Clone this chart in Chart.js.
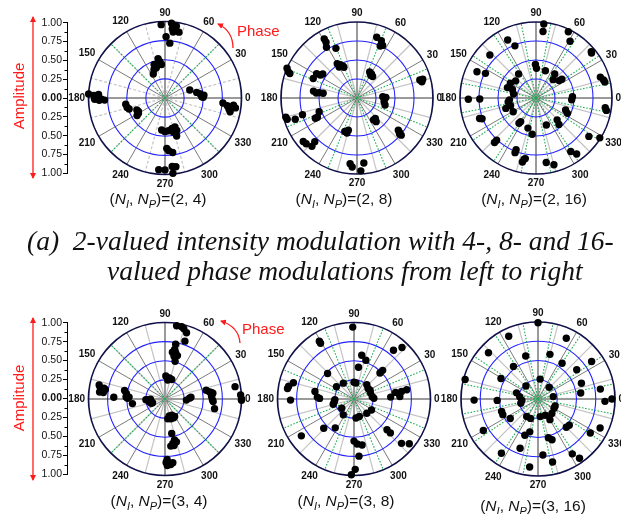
<!DOCTYPE html>
<html><head><meta charset="utf-8">
<script src="https://cdn.jsdelivr.net/npm/chart.js@4.4.1/dist/chart.umd.min.js"></script>
<style>
html,body{margin:0;padding:0;background:#fff}
body{width:621px;height:514px;position:relative;overflow:hidden;font-family:"Liberation Sans",Arial,sans-serif}
canvas{position:absolute}
.cap{position:absolute;font-size:15.5px;white-space:nowrap;transform:translate(-50%,-50%);color:#111}
.cap sub{font-size:11px;vertical-align:-4px;line-height:0}
.red{position:absolute;color:#ff1a1a;font-size:15px;white-space:nowrap}
.amp{transform:translate(-50%,-50%) rotate(-90deg)}
.para{position:absolute;font-family:"Liberation Serif","Times New Roman",serif;font-style:italic;font-size:27.5px;white-space:pre;color:#111;line-height:1}
svg{position:absolute;left:0;top:0}
</style></head>
<body>
<script>
// ---------- data: amplitude and phase (degrees) of each received symbol ----------
const amp1 = [0.96,0.98,0.95,0.91,0.87,0.88,0.80,0.72, 0.52,0.48,0.46,0.43,0.44,0.40,0.41,0.35, 1.00,0.93,0.89,0.87,0.86,0.83,0.79,0.92, 0.52,0.51,0.49,0.40,0.39,0.43,0.40, 0.42,0.44,0.43,0.41,0.40,0.45,0.46,0.52, 0.66,0.69,0.72,0.94,0.94,0.90,0.91,0.99, 0.34,0.42,0.46,0.48,0.50,0.51, 0.76,0.82,0.85,0.89,0.90,0.87,0.93];
const phase1 = [93,85,81,84,83,78,89,85, 100,98,108,106,96,111,106,116, 177,178,180,177,182,181,182,181, 189,194,197,203,207,212,210, 264,270,276,283,289,290,284,287, 272,274,278,265,270,276,279,276, 18,10,7,2,1,4, 355,353,350,352,354,348,352];

const amp2 = [0.89,0.84,0.78,0.71, 0.84,0.82,0.77,0.75, 0.52,0.49,0.46,0.44,0.47, 0.38,0.37,0.35,0.35, 1.00,0.97,0.94, 0.62,0.57,0.55,0.63, 0.58,0.54,0.50,0.45, 0.34,0.38,0.36,0.38, 0.97,0.96,0.86,0.75, 0.61,0.58,0.53, 0.36,0.40,0.36, 0.47,0.48,0.44, 0.91,0.90,0.80,0.87, 0.69,0.72,0.76,0.73, 0.87,0.91,0.96,0.86, 0.86,0.88,0.90];
const phase2 = [119,119,121,113, 72,67,64,66, 120,117,114,113,120, 64,59,54,59, 157,159,160, 149,148,145,156, 171,173,172,172, 3,1,352,346, 195,197,199,197, 206,206,200, 307,309,312, 250,254,255, 219,222,226,227, 322,321,320,320, 264,266,273,276, 16,14,16];

const amp3 = [0.98,0.88,0.97,0.87,0.85,0.74,0.95,0.94,0.83,0.44,0.39,0.38,0.85,0.74,0.39,0.40,0.33,0.38,0.42,0.89,0.92,0.93,0.35,0.39,0.40,0.33,0.30,0.89,0.74,0.35,0.37,0.42,0.35,0.35,0.48,0.47,0.92,0.94,0.42,0.46,0.79,0.76,0.40,0.37,0.41,0.48,0.38,0.40,0.46,0.86,0.99,0.76,0.80,0.73,0.77,0.84,0.91,0.82,0.81,0.86,0.86,0.91];
const phase3 = [84,84,64,59,116,112,40,39,137,91,89,71,156,154,126,52,47,37,36,18,15,13,140,150,160,160,170,181,181,184,188,199,197,211,2,357,352,350,338,334,200,201,236,237,255,264,291,314,311,324,328,227,227,249,249,303,306,259,260,258,279,285];

const amp4 = [0.97,0.97,0.95,0.91,0.80, 0.73,0.66,0.62,0.62,0.57,0.59,0.51, 0.30,0.28,0.27,0.25, 0.88,0.86,0.81,0.86,0.81,0.79, 0.67, 0.54,0.51,0.51,0.49,0.47,0.43, 0.25,0.23,0.21,0.19,0.17,0.19, 0.28,0.32,0.34, 0.55,0.59,0.61,0.63,0.61,0.62,0.63,0.66, 0.93,0.99,1.00,1.00, 0.23,0.27,0.27,0.26,0.23,0.26, 0.46,0.55,0.59,0.62,0.62,0.58, 0.83,0.84,0.87,0.86,0.84,0.79];
const phase4 = [81,77,75,72,71, 79,79,81,77,78,74,75, 88,78,71,82, 168,170,170,174,174,171, 178, 168,172,177,179,177,188, 182,183,190,181,197,197, 357,2,4, 12,9,8,7,3,359,357,349, 10,3,0,359, 284,287,295,278,293,299, 281,283,280,281,277,285, 271,274,272,275,277,272];

const amp5 = [0.94,0.88,0.85,0.92,0.82,0.58,0.53,0.42,0.48,0.53,0.48,0.25,0.22,0.21,0.28,0.25,0.23,0.24,0.23,0.87,0.82,0.88,0.52,0.48,0.45,0.83,0.25,0.26,0.28,0.24,0.26,0.48,0.55,0.63,0.60,0.70,0.20,0.25,0.25,0.24,0.25,0.27,0.55,0.45,0.59,0.65,0.84,0.55,0.59,0.61,0.75,0.85,0.93,0.92,0.99];
const phase5 = [91,121,121,47,51,80,73,82,45,45,136,124,90,83,145,48,37,29,21,169,165,171,169,177,179,181,182,188,194,7,2,3,9,9,3,10,217,236,276,287,312,328,224,237,317,317,215,270,274,280,275,317,321,271,268];

const amp6 = [0.99,0.90,0.87,0.88,0.58,0.60,0.85,0.56,0.53,0.63,0.98,0.55,0.26,0.23,0.21,0.60,0.56,0.82,0.53,0.83,0.29,0.24,0.21,0.23,0.20,0.87,0.96,0.24,0.24,0.50,0.50,0.44,0.27,0.27,0.23,0.23,0.26,0.31,0.53,0.52,0.89,0.82,0.50,0.44,0.52,0.56,0.81,0.85,0.68,0.73,0.84,0.94,0.89,0.84];
const phase6 = [90,115,65,137,106,75,35,56,127,37,165,151,84,133,46,20,8,9,182,181,164,173,184,194,9,358,0,338,330,199,204,215,237,249,277,294,314,300,320,315,335,210,250,256,285,289,327,236,250,275,302,305,263,283];

// tick labels
const angleTicks = [0,30,60,90,120,150,180,210,240,270,300,330];
const ampTicks = [-1,-0.75,-0.5,-0.25,0,0.25,0.5,0.75,1];
const nIValues = [2,2,2,3,3,3];
const nPValues = [4,8,16,4,8,16];

// ---------- layout (positions only) ----------
const plots = [
  {amp:amp1, ph:phase1, cx:165,   cy:98,  R:76.5, dashMinor:true},
  {amp:amp2, ph:phase2, cx:357,   cy:98,  R:76,   dashMinor:false},
  {amp:amp3, ph:phase3, cx:535.5, cy:98,  R:76,   dashMinor:false},
  {amp:amp4, ph:phase4, cx:165,   cy:399, R:76.5, dashMinor:false},
  {amp:amp5, ph:phase5, cx:354,   cy:399, R:76.5, dashMinor:false},
  {amp:amp6, ph:phase6, cx:538,   cy:399, R:77,   dashMinor:false}
];
const captions = [
  {x:158, y:199}, {x:344, y:199}, {x:534, y:199},
  {x:159, y:501}, {x:346, y:501}, {x:533, y:506}
];

const DEG = Math.PI/180;

const polarGrid = {
  id:'polarGrid',
  beforeDatasetsDraw(chart){
    const o = chart.options.plugins.polarGrid;
    const {ctx} = chart, sx = chart.scales.x, sy = chart.scales.y;
    const cx = sx.getPixelForValue(0), cy = sy.getPixelForValue(0);
    const spoke = (a, r0, r1) => {
      ctx.beginPath();
      ctx.moveTo(sx.getPixelForValue(r0*Math.cos(a*DEG)), sy.getPixelForValue(r0*Math.sin(a*DEG)));
      ctx.lineTo(sx.getPixelForValue(r1*Math.cos(a*DEG)), sy.getPixelForValue(r1*Math.sin(a*DEG)));
      ctx.stroke();
    };
    ctx.save();
    // light spokes (odd multiples of 15)
    ctx.strokeStyle = '#c4c4c4'; ctx.lineWidth = 1.2;
    ctx.setLineDash(o.dashMinor ? [3,2] : []);
    for (let a = 15; a < 360; a += 30) spoke(a, 0, 1);
    ctx.setLineDash([]);
    // dark spokes (multiples of 30, not axes)
    ctx.strokeStyle = '#7a7a7a'; ctx.lineWidth = 1;
    for (let a = 30; a < 360; a += 30) if (a % 90) spoke(a, 0, 1);
    // axes
    ctx.strokeStyle = '#9a9a9a'; ctx.lineWidth = 2;
    for (let a = 0; a < 360; a += 90) spoke(a, 0, 1);
    // blue amplitude circles
    ctx.strokeStyle = '#2323ff'; ctx.lineWidth = 1.1;
    [0.25,0.5,0.75].forEach(r => {
      const rr = sx.getPixelForValue(r) - cx;
      ctx.beginPath(); ctx.arc(cx, cy, rr, 0, 2*Math.PI); ctx.stroke();
    });
    // green decision boundaries
    ctx.strokeStyle = '#1fae55'; ctx.lineWidth = 1.1; ctx.setLineDash([1.6,1.6]);
    const n = o.nP;
    for (let k = 0; k < n; k++) spoke((k+0.5)*360/n, 0, 1);
    ctx.setLineDash([]);
    // outer circle
    const R = sx.getPixelForValue(1) - cx;
    ctx.strokeStyle = '#10104a'; ctx.lineWidth = 1.7;
    ctx.beginPath(); ctx.arc(cx, cy, R, 0, 2*Math.PI); ctx.stroke();
    // angle labels
    ctx.fillStyle = '#111'; ctx.font = 'bold 10px "Liberation Sans", Arial, sans-serif';
    ctx.textAlign = 'center'; ctx.textBaseline = 'middle';
    angleTicks.forEach(a => {
      const t = String(a), w = ctx.measureText(t).width, h = 7;
      const c = Math.cos(a*DEG), s = Math.sin(a*DEG);
      const d = R + 3.5 + Math.abs(c)*w/2 + Math.abs(s)*(h/2 + 2);
      ctx.fillText(t, cx + d*c, cy - d*s + 0.5);
    });
    ctx.restore();
  }
};

function addPolar(p, i){
  const S = 230;
  const cv = document.createElement('canvas');
  cv.width = S; cv.height = S;
  cv.style.left = (p.cx - S/2) + 'px'; cv.style.top = (p.cy - S/2) + 'px';
  cv.style.width = S + 'px'; cv.style.height = S + 'px';
  document.body.appendChild(cv);
  const pad = S/2 - p.R;
  const pts = p.amp.map((a, k) => ({x: a*Math.cos(p.ph[k]*DEG), y: a*Math.sin(p.ph[k]*DEG)}));
  new Chart(cv.getContext('2d'), {
    type:'scatter',
    data:{datasets:[{data:pts, backgroundColor:'#000', borderColor:'#000', borderWidth:0,
      pointRadius:3.7, pointHoverRadius:3.7, clip:false}]},
    options:{
      responsive:false, animation:false, events:[],
      layout:{padding:pad},
      plugins:{legend:{display:false}, tooltip:{enabled:false},
        polarGrid:{nP:nPValues[i], dashMinor:p.dashMinor}},
      scales:{
        x:{type:'linear', min:-1, max:1, display:false},
        y:{type:'linear', min:-1, max:1, display:false}
      }
    },
    plugins:[polarGrid]
  });
}

const minorTicks = {
  id:'minorTicks',
  afterDraw(chart){
    const {ctx} = chart, y = chart.scales.y, x0 = chart.chartArea.left;
    ctx.save(); ctx.strokeStyle = '#000'; ctx.lineWidth = 1;
    for (let v = -0.875; v < 1; v += 0.25) {
      const py = Math.round(y.getPixelForValue(v)) + 0.5;
      ctx.beginPath(); ctx.moveTo(x0 - 2.5, py); ctx.lineTo(x0, py); ctx.stroke();
    }
    ctx.restore();
  }
};

function addAmpAxis(top, y1, y2){
  const H = 200, W = 72;
  const cv = document.createElement('canvas');
  cv.width = W; cv.height = H;
  cv.style.left = '0px'; cv.style.top = top + 'px';
  cv.style.width = W + 'px'; cv.style.height = H + 'px';
  document.body.appendChild(cv);
  new Chart(cv.getContext('2d'), {
    type:'scatter',
    data:{datasets:[{data:[]}]},
    options:{
      responsive:false, animation:false, events:[],
      layout:{padding:{left:0, right:3, top:y1 - top, bottom:top + H - y2}},
      plugins:{legend:{display:false}, tooltip:{enabled:false}},
      scales:{
        x:{type:'linear', display:false},
        y:{type:'linear', min:-1, max:1,
           afterFit(s){ s.width = 67; },
           afterBuildTicks(s){ s.ticks = ampTicks.map(v => ({value:v})); },
           ticks:{color:'#111', padding:1,
             font:(c)=>({family:'"Liberation Sans", Arial, sans-serif', size:10.5, weight: (c.tick && c.tick.value === 0) ? 'bold' : 'normal'}),
             callback:(v)=>Math.abs(v).toFixed(2)},
           grid:{display:true, drawOnChartArea:false, drawTicks:true, tickLength:4, color:'#000', lineWidth:1},
           border:{display:true, color:'#000', width:1}}
      }
    },
    plugins:[minorTicks]
  });
}

plots.forEach(addPolar);
addAmpAxis(0, 22.7, 173.3);
addAmpAxis(300, 322.7, 474.3);

// captions
captions.forEach((c, i) => {
  const d = document.createElement('div');
  d.className = 'cap';
  d.style.left = c.x + 'px'; d.style.top = c.y + 'px';
  d.innerHTML = '(<i>N<sub>I</sub></i>, <i>N<sub>P</sub></i>)=(' + nIValues[i] + ', ' + nPValues[i] + ')';
  document.body.appendChild(d);
});

function addText(cls, html, x, y){
  const d = document.createElement('div');
  d.className = cls; d.innerHTML = html;
  d.style.left = x + 'px'; d.style.top = y + 'px';
  document.body.appendChild(d);
  return d;
}
addText('red amp', 'Amplitude', 18, 96);
addText('red amp', 'Amplitude', 18, 398);
addText('red', 'Phase', 237, 22);
addText('red', 'Phase', 242, 320);
addText('para', '(a)  2-valued intensity modulation with 4-, 8- and 16-', 27, 227);
addText('para', 'valued phase modulations from left to right', 107, 257);

// red arrows
const svgNS = 'http://www.w3.org/2000/svg';
const svg = document.createElementNS(svgNS, 'svg');
svg.setAttribute('width', 621); svg.setAttribute('height', 514);
svg.innerHTML = `
<defs><marker id="ah" markerWidth="6" markerHeight="6" refX="5" refY="3" orient="auto" markerUnits="userSpaceOnUse">
<path d="M0,0 L6,3 L0,6 z" fill="#ff1a1a"/></marker></defs>
<line x1="33" y1="96" x2="33" y2="17" stroke="#ff1a1a" stroke-width="1.3" marker-end="url(#ah)"/>
<line x1="33" y1="96" x2="33" y2="178" stroke="#ff1a1a" stroke-width="1.3" marker-end="url(#ah)"/>
<line x1="33" y1="398" x2="33" y2="318" stroke="#ff1a1a" stroke-width="1.3" marker-end="url(#ah)"/>
<line x1="33" y1="398" x2="33" y2="480" stroke="#ff1a1a" stroke-width="1.3" marker-end="url(#ah)"/>
<path d="M233,48 Q233,31 218,24" fill="none" stroke="#ff1a1a" stroke-width="1.3" marker-end="url(#ah)"/>
<path d="M240,343 Q239,327 221,321" fill="none" stroke="#ff1a1a" stroke-width="1.3" marker-end="url(#ah)"/>`;
document.body.appendChild(svg);
</script>
</body></html>
